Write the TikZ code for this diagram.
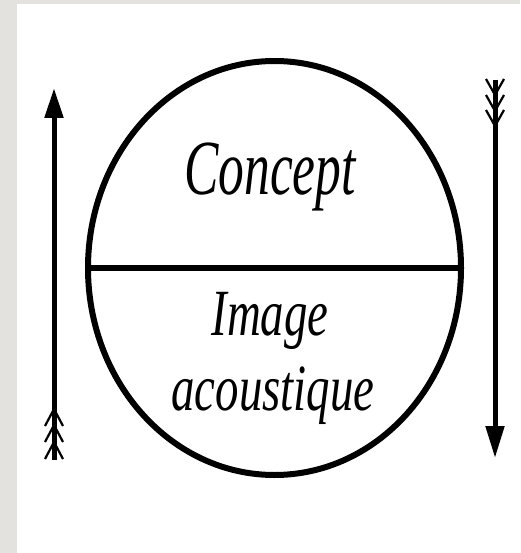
\documentclass[tikz,border=0pt]{standalone}
\usepackage{fontspec}
\setmainfont{Liberation Serif}
\usetikzlibrary{arrows.meta,shapes.geometric}
\definecolor{bggray}{HTML}{E4E2DE}
\tikzset{
  thickline/.style={line width=6pt},
  shaft/.style={line width=5pt},
  feather/.style={line width=2.2pt},
  lbl/.style={anchor=base, inner sep=0pt, font=\itshape},
}
\begin{document}
\begin{tikzpicture}[x=1pt,y=-1pt]
\fill[bggray] (0,0) rectangle (520,553);
\fill[white] (17,4) rectangle (520,553);
\useasboundingbox (0,0) rectangle (520,553);
% sign circle
\node[draw, thickline, ellipse, minimum width=373pt, minimum height=414pt, inner sep=0pt] (sign) at (274.5,268) {};
\draw[thickline] (sign.west) -- (sign.east);
% texts
\node[lbl, xscale=0.66, font=\itshape\fontsize{78}{80}\selectfont] (concept) at (270,195) {Concept};
\node[lbl, xscale=0.71, font=\itshape\fontsize{66}{68}\selectfont] (image) at (270,335) {Image};
\node[lbl, xscale=0.71, font=\itshape\fontsize{66}{68}\selectfont] (acoustique) at (273,410) {acoustique};
% left arrow (upwards)
\coordinate (la) at (54,460);
\coordinate (lb) at (54,88);
\draw[shaft, -{Triangle[length=30pt,width=18pt]}] (la) -- (lb);
\foreach \y in {409,425,442}{
  \draw[feather] (54,\y) -- (45,\y+17);
  \draw[feather] (54,\y) -- (63,\y+17);
}
% right arrow (downwards)
\coordinate (ra) at (495,80);
\coordinate (rb) at (495,458);
\draw[shaft, -{Triangle[length=32pt,width=18pt]}] (ra) -- (rb);
\foreach \y in {95,111,126}{
  \draw[feather] (495,\y) -- (486,\y-16);
  \draw[feather] (495,\y) -- (504,\y-16);
}
\end{tikzpicture}
\end{document}
